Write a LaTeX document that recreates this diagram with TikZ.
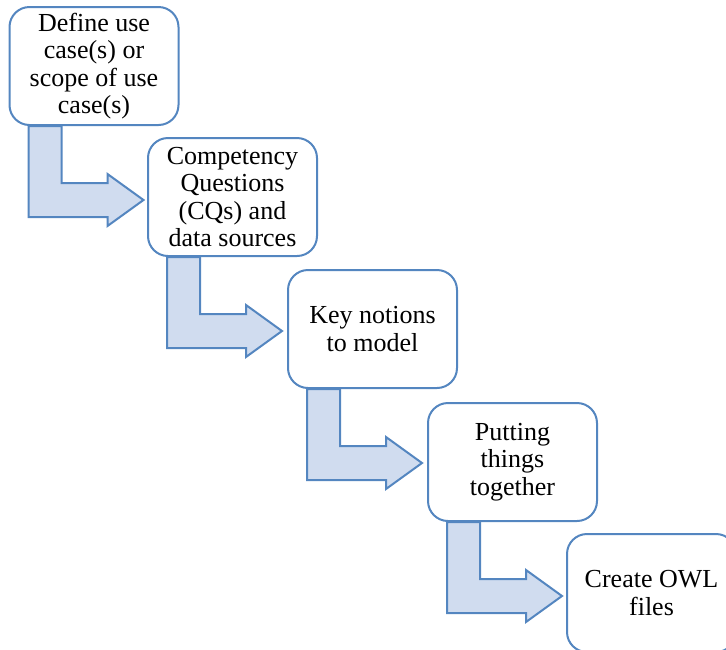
\documentclass[tikz,border=0pt]{standalone}
\usepackage{fontspec}
\setmainfont{Liberation Serif}
\usetikzlibrary{calc,backgrounds}
\definecolor{edgeblue}{RGB}{84,134,192}
\definecolor{arrowfill}{RGB}{208,220,239}
\tikzset{
  stagebox/.style={draw=edgeblue, line width=2pt, fill=white, rounded corners=20pt,
    minimum width=169pt, minimum height=118pt, align=center,
    font=\fontsize{26}{27.5}\selectfont, inner sep=2pt},
  bentarrow/.style={draw=edgeblue, line width=2pt, fill=arrowfill, line join=miter}
}
% bent block arrow leaving the bottom of box #1 and pointing right
\newcommand{\stagearrow}[1]{%
  \draw[bentarrow]
    ($(#1.south west)+(20,0)$) -- ($(#1.south west)+(20,91)$)
    -- ($(#1.south west)+(99,91)$) -- ($(#1.south west)+(99,100)$)
    -- ($(#1.south west)+(135,74)$) -- ($(#1.south west)+(99,48)$)
    -- ($(#1.south west)+(99,57)$) -- ($(#1.south west)+(53,57)$)
    -- ($(#1.south west)+(53,0)$) -- cycle;}
\begin{document}
\begin{tikzpicture}[x=1pt, y=-1pt]
  \useasboundingbox (0,0) rectangle (726,649);
  \clip (0,0) rectangle (726,649);
  \node[stagebox] (s1) at (94,66)    {Define use\\case(s) or\\scope of use\\case(s)};
  \node[stagebox] (s2) at (232.5,197) {Competency\\Questions\\(CQs) and\\data sources};
  \node[stagebox] (s3) at (372.5,329) {Key notions\\to model};
  \node[stagebox] (s4) at (512.5,462) {Putting\\things\\together};
  \node[stagebox] (s5) at (651.5,593) {Create OWL\\files};
  \begin{scope}[on background layer]
    \stagearrow{s1}
    \stagearrow{s2}
    \stagearrow{s3}
    \stagearrow{s4}
  \end{scope}
\end{tikzpicture}
\end{document}
